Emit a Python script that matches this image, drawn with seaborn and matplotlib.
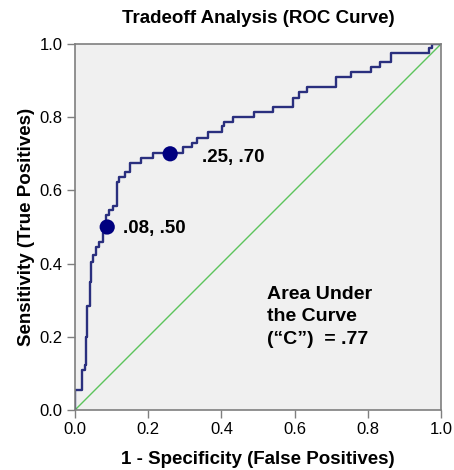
import numpy as np
import pandas as pd
import matplotlib
matplotlib.use('Agg')
import matplotlib.pyplot as plt
import seaborn as sns

# ROC curve corners (step post): false positive rate / true positive rate
fpr = [0.0, 0.0, 0.020, 0.027, 0.030, 0.034, 0.041, 0.045, 0.050, 0.057,
       0.066, 0.076, 0.085, 0.094, 0.103, 0.114, 0.121, 0.137, 0.150, 0.179,
       0.214, 0.294, 0.319, 0.334, 0.364, 0.401, 0.408, 0.431, 0.489, 0.542,
       0.595, 0.613, 0.635, 0.714, 0.755, 0.810, 0.834, 0.862, 0.966, 0.975, 1.0]
tpr = [0.0, 0.055, 0.109, 0.123, 0.200, 0.284, 0.351, 0.405, 0.423, 0.446,
       0.460, 0.483, 0.533, 0.546, 0.557, 0.624, 0.637, 0.651, 0.676, 0.688,
       0.703, 0.718, 0.730, 0.744, 0.759, 0.775, 0.786, 0.800, 0.814, 0.827,
       0.853, 0.868, 0.883, 0.909, 0.923, 0.937, 0.950, 0.976, 0.990, 1.0, 1.0]

# highlighted cut points
pt_fpr = [0.088, 0.26]
pt_tpr = [0.50, 0.70]
pt_labels = ['.08, .50', '.25, .70']

diag = [0.0, 1.0]
auc_text = 'Area Under\nthe Curve\n(\u201cC\u201d)  = .77'

sns.set_style('ticks', {'axes.facecolor': '#f0f0f0', 'axes.edgecolor': '#7f7f7f',
                        'text.color': 'black', 'axes.labelcolor': 'black',
                        'xtick.color': '#7f7f7f', 'ytick.color': '#7f7f7f'})
plt.rcParams['font.family'] = ['Liberation Sans', 'DejaVu Sans']

fig = plt.figure(figsize=(4.54, 4.70), dpi=100)
ax = fig.add_axes([0.1652, 0.1277, 0.8062, 0.7787])

roc = pd.DataFrame({'fpr': fpr, 'tpr': tpr})
sns.lineplot(x=diag, y=diag, color='#5cc45c', linewidth=1.0, ax=ax)
sns.lineplot(data=roc, x='fpr', y='tpr', sort=False, estimator=None,
             drawstyle='steps-post', color='#2a2f7e', linewidth=1.7, ax=ax)
sns.scatterplot(x=pt_fpr, y=pt_tpr, color='#00007f', s=120, edgecolor='none',
                zorder=5, ax=ax)
# label offsets (data units) for each cut point
lab_dx = [0.044, 0.087]
lab_dy = [-0.005, -0.01]
for xv, yv, lab, dx, dy in zip(pt_fpr, pt_tpr, pt_labels, lab_dx, lab_dy):
    ax.text(xv + dx, yv + dy, lab, fontsize=13.5, fontweight='bold',
            ha='left', va='center', color='black')

ax.text(0.525, 0.34, auc_text, fontsize=14, fontweight='bold', ha='left',
        va='top', linespacing=1.45, color='black')

ax.set_xlim(0, 1)
ax.set_ylim(0, 1)
ticks = [0.0, 0.2, 0.4, 0.6, 0.8, 1.0]
ax.set_xticks(ticks)
ax.set_yticks(ticks)
ax.set_xticklabels([f'{t:.1f}' for t in ticks], fontsize=12)
ax.set_yticklabels([f'{t:.1f}' for t in ticks], fontsize=12)
ax.tick_params(length=6, width=1, color='#7f7f7f', labelcolor='black', pad=3)
for sp in ax.spines.values():
    sp.set_linewidth(1.2)
    sp.set_visible(True)

ax.set_title('Tradeoff Analysis (ROC Curve)', fontsize=13.5, fontweight='bold',
             pad=15, color='black')
ax.set_xlabel('1 - Specificity (False Positives)', fontsize=13.5, fontweight='bold', labelpad=10)
ax.set_ylabel('Sensitivity (True Positives)', fontsize=13.5, fontweight='bold', labelpad=3)

plt.savefig('out.png', dpi=100)
